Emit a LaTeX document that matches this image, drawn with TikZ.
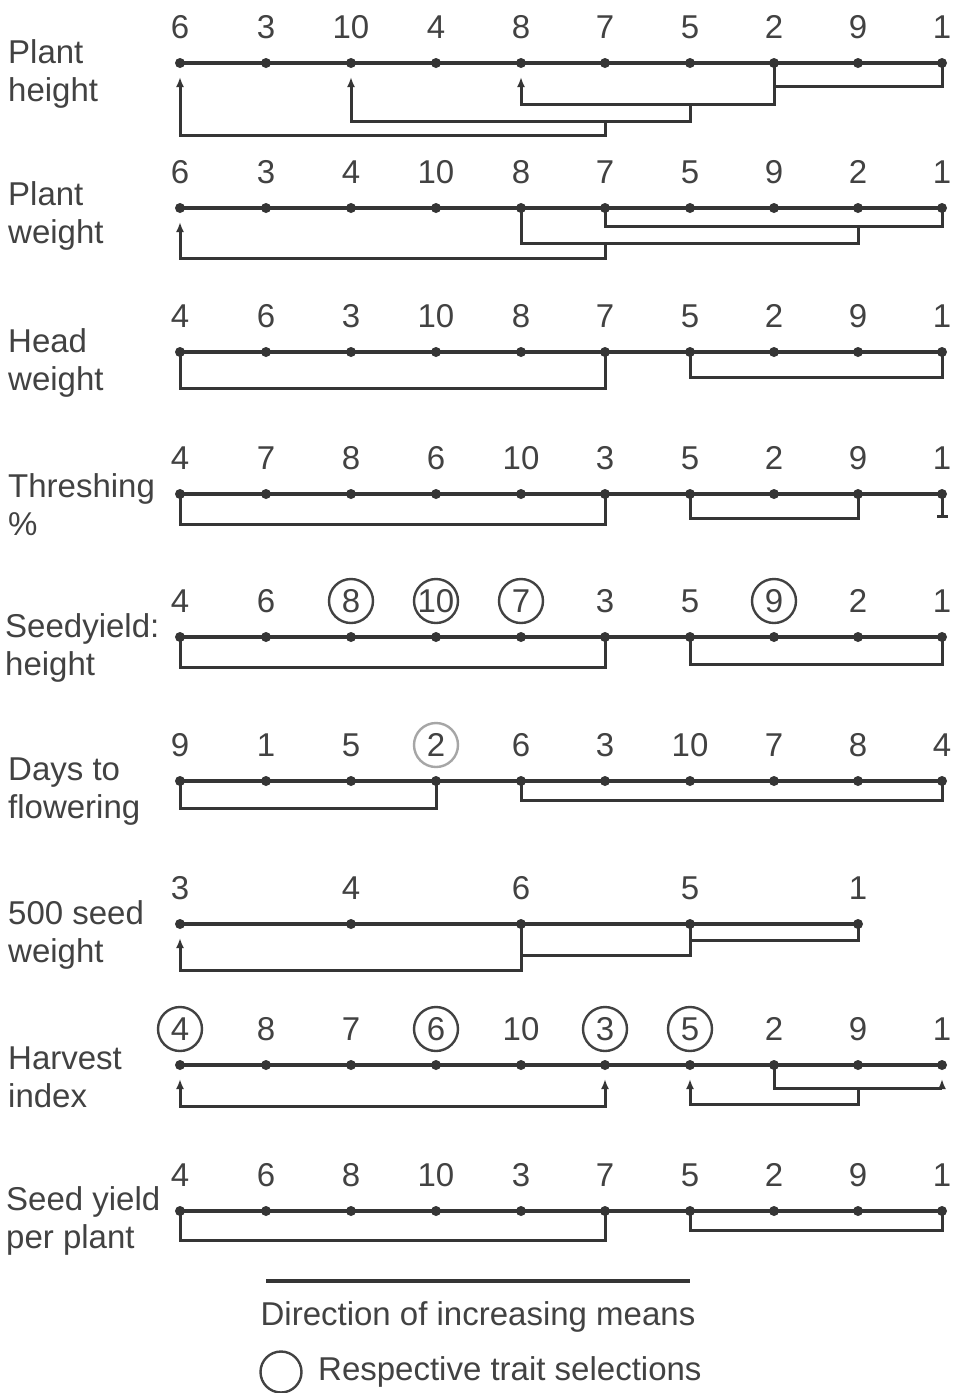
\documentclass[tikz,border=0pt]{standalone}
\usepackage{fontspec}
\setmainfont{Liberation Sans}
\usetikzlibrary{arrows.meta}
\definecolor{ink}{HTML}{353535}
\definecolor{txt}{HTML}{424242}
\begin{document}
\begin{tikzpicture}[x=1pt,y=-1pt,
  dot/.style={circle,fill=ink,inner sep=0pt,minimum size=10pt},
  num/.style={text=txt,font=\fontsize{33}{38}\selectfont,inner sep=0pt},
  lab/.style={text=txt,font=\fontsize{33}{38}\selectfont,align=left,anchor=west,inner sep=0pt},
  ring/.style={draw=txt,line width=2.4pt,circle,minimum size=44pt,inner sep=0pt},
  main/.style={draw=ink,line width=3.4pt},
  br/.style={draw=ink,line width=3pt,line join=miter},
  arr/.style={{Latex[length=10pt,width=8pt]}-},
  rarr/.style={-{Latex[length=10pt,width=8pt]}},
  arrb/.style={{Latex[length=10pt,width=8pt]}-{Latex[length=10pt,width=8pt]}}
]
\useasboundingbox (0,0) rectangle (953,1393);
\fill[white] (0,0) rectangle (953,1393);

% generic panel macro: #1 id, #2 line y, #3 labels
\newcommand\mypanel[3]{%
  \foreach \n [count=\i from 0] in {#3} {
    \pgfmathsetmacro\xx{{180,266,351,436,521,605,690,774,858,942}[\i]}
    \node[dot] (p#1-\i) at (\xx,#2) {};
    \node[num] (n#1-\i) at (\xx,#2-36) {\n};
  }
  \draw[main] (p#1-0.center) -- (p#1-9.center);
}

% ---------- Panel 1: Plant height ----------
\node[lab] (t1) at (8,74) {Plant\\height};
\mypanel{1}{63}{6,3,10,4,8,7,5,2,9,1}
\draw[br] (p1-7.center) |- (p1-9 |- 0,86) -- (p1-9.center);
\draw[br,arr] ([yshift=-14pt]p1-4.center) |- (p1-7 |- 0,104) -- (p1-7 |- 0,86);
\draw[br,arr] ([yshift=-14pt]p1-2.center) |- (p1-6 |- 0,121) -- (p1-6 |- 0,104);
\draw[br,arr] ([yshift=-14pt]p1-0.center) |- (p1-5 |- 0,135) -- (p1-5 |- 0,121);

% ---------- Panel 2: Plant weight ----------
\node[lab] (t2) at (8,216) {Plant\\weight};
\mypanel{2}{208}{6,3,4,10,8,7,5,9,2,1}
\draw[br] (p2-5.center) |- (p2-9 |- 0,226) -- (p2-9.center);
\draw[br] (p2-4.center) |- (p2-8 |- 0,243) -- (p2-8 |- 0,226);
\draw[br,arr] ([yshift=-14pt]p2-0.center) |- (p2-5 |- 0,258) -- (p2-5 |- 0,243);

% ---------- Panel 3: Head weight ----------
\node[lab] (t3) at (8,363) {Head\\weight};
\mypanel{3}{352}{4,6,3,10,8,7,5,2,9,1}
\draw[br] (p3-0.center) |- (p3-5 |- 0,388) -- (p3-5.center);
\draw[br] (p3-6.center) |- (p3-9 |- 0,377) -- (p3-9.center);

% ---------- Panel 4: Threshing % ----------
\node[lab] (t4) at (8,505) {Threshing\\\%};
\mypanel{4}{494}{4,7,8,6,10,3,5,2,9,1}
\draw[br] (p4-0.center) |- (p4-5 |- 0,524) -- (p4-5.center);
\draw[br] (p4-6.center) |- (p4-8 |- 0,518) -- (p4-8.center);
\draw[br,-{Bar[width=11pt]}] (p4-9.center) -- (p4-9 |- 0,518);

% ---------- Panel 5: Seedyield: height ----------
\node[lab] (t5) at (5,648) {Seedyield:\\height};
\mypanel{5}{637}{4,6,8,10,7,3,5,9,2,1}
\foreach \k in {2,3,4,7} { \node[ring] at (n5-\k) {}; }
\draw[br] (p5-0.center) |- (p5-5 |- 0,667) -- (p5-5.center);
\draw[br] (p5-6.center) |- (p5-9 |- 0,664) -- (p5-9.center);

% ---------- Panel 6: Days to flowering ----------
\node[lab] (t6) at (8,792) {Days to\\flowering};
\mypanel{6}{781}{9,1,5,2,6,3,10,7,8,4}
\node[ring,draw=gray!70] at (n6-3) {};
\draw[br] (p6-0.center) |- (p6-3 |- 0,808) -- (p6-3.center);
\draw[br] (p6-4.center) |- (p6-9 |- 0,800) -- (p6-9.center);

% ---------- Panel 7: 500 seed weight ----------
\node[lab] (t7) at (8,935) {500 seed\\weight};
\foreach \n/\i/\xx in {3/0/180,4/2/351,6/4/521,5/6/690,1/8/858} {
  \node[dot] (p7-\i) at (\xx,924) {};
  \node[num] (n7-\i) at (\xx,888) {\n};
}
\draw[main] (p7-0.center) -- (p7-8.center);
\draw[br] (p7-6.center) |- (p7-8 |- 0,940) -- (p7-8.center);
\draw[br] (p7-4.center) |- (p7-6 |- 0,955) -- (p7-6 |- 0,940);
\draw[br,arr] ([yshift=-14pt]p7-0.center) |- (p7-4 |- 0,970) -- (p7-4.center);

% ---------- Panel 8: Harvest index ----------
\node[lab] (t8) at (8,1077) {Harvest\\index};
\mypanel{8}{1065}{4,8,7,6,10,3,5,2,9,1}
\foreach \k in {0,3,5,6} { \node[ring] at (n8-\k) {}; }
\draw[br,rarr] (p8-7.center) |- (p8-9 |- 0,1088) -- ([yshift=-14pt]p8-9.center);
\draw[br,arr] ([yshift=-14pt]p8-6.center) |- (p8-8 |- 0,1104) -- (p8-8 |- 0,1088);
\draw[br,arrb] ([yshift=-14pt]p8-0.center) |- (p8-5 |- 0,1106) -- ([yshift=-14pt]p8-5.center);

% ---------- Panel 9: Seed yield per plant ----------
\node[lab] (t9) at (6,1221) {Seed yield\\per plant};
\mypanel{9}{1211}{4,6,8,10,3,7,5,2,9,1}
\draw[br] (p9-0.center) |- (p9-5 |- 0,1240) -- (p9-5.center);
\draw[br] (p9-6.center) |- (p9-9 |- 0,1230) -- (p9-9.center);

% ---------- Legend ----------
\coordinate (lga) at (266,1281);
\coordinate (lgb) at (690,1281);
\draw[main] (lga) -- (lgb);
\node[num] (lgt) at (478,1317) {Direction of increasing means};
\node[ring,minimum size=41pt] (lgc) at (281,1372) {};
\node[lab] (lgs) at (318,1372) {Respective trait selections};
\end{tikzpicture}
\end{document}
